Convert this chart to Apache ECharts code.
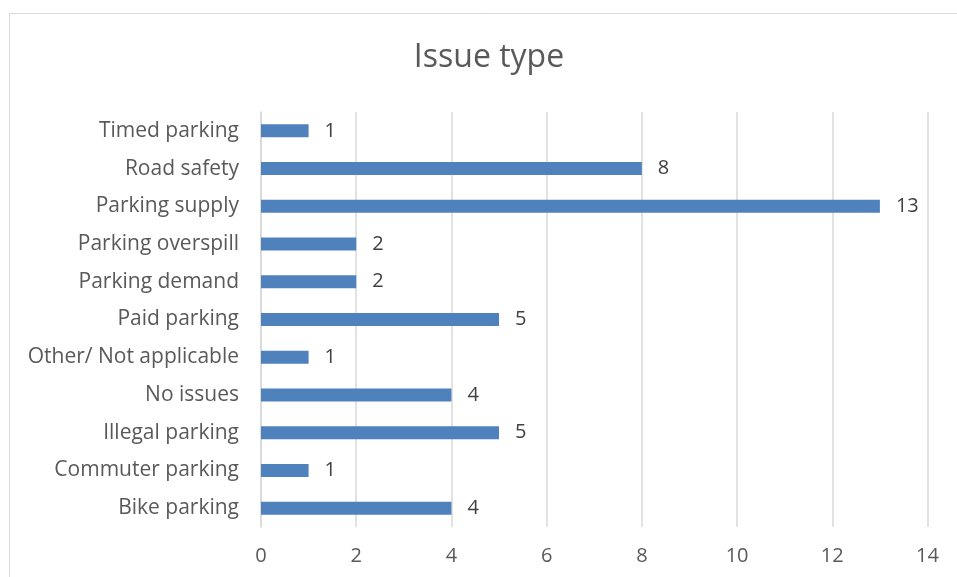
<!DOCTYPE html>
<html>
<head>
<meta charset="utf-8">
<script src="https://cdn.jsdelivr.net/npm/echarts@6/dist/echarts.min.js"></script>
<style>
  html, body { margin: 0; padding: 0; background: #fff; }
  #chart { width: 957px; height: 577px; }
</style>
</head>
<body>
<div id="chart"></div>
<script>
// Issue categories, listed bottom to top
const categories = [
  'Bike parking', 'Commuter parking', 'Illegal parking', 'No issues',
  'Other/ Not applicable', 'Paid parking', 'Parking demand',
  'Parking overspill', 'Parking supply', 'Road safety', 'Timed parking'
];
const counts = [4, 1, 5, 4, 1, 5, 2, 2, 13, 8, 1];
const xTicks = [0, 2, 4, 6, 8, 10, 12, 14];

const font = '"Open Sans", "Liberation Sans", sans-serif';
const chart = echarts.init(document.getElementById('chart'));
chart.setOption({
  animation: false,
  graphic: [{
    type: 'rect',
    shape: { x: 9.5, y: 13.5, width: 960, height: 580 },
    style: { fill: 'none', stroke: '#d9d9d9', lineWidth: 1 }
  }],
  title: {
    text: 'Issue type',
    left: 484, top: 37, textAlign: 'center',
    textStyle: { fontFamily: font, fontSize: 32, fontWeight: 'normal', color: '#595959' }
  },
  grid: { left: 261, right: 29.5, top: 112, bottom: 50 },
  xAxis: {
    type: 'value', min: xTicks[0], max: xTicks[xTicks.length - 1], interval: 2,
    axisLine: { show: false }, axisTick: { show: false },
    splitLine: { lineStyle: { color: '#d9d9d9', width: 1.5 } },
    axisLabel: { fontFamily: font, fontSize: 20, color: '#595959', margin: 19 }
  },
  yAxis: {
    type: 'category', data: categories,
    axisLine: { lineStyle: { color: '#d9d9d9', width: 1.5 } },
    axisTick: { show: false },
    axisLabel: { fontFamily: font, fontSize: 21, color: '#595959', margin: 22 }
  },
  series: [{
    type: 'bar', data: counts, barWidth: 13,
    itemStyle: { color: '#4f81bd' },
    label: {
      show: true, position: 'right', distance: 16,
      fontFamily: font, fontSize: 20, color: '#404040'
    }
  }]
});
</script>
</body>
</html>
